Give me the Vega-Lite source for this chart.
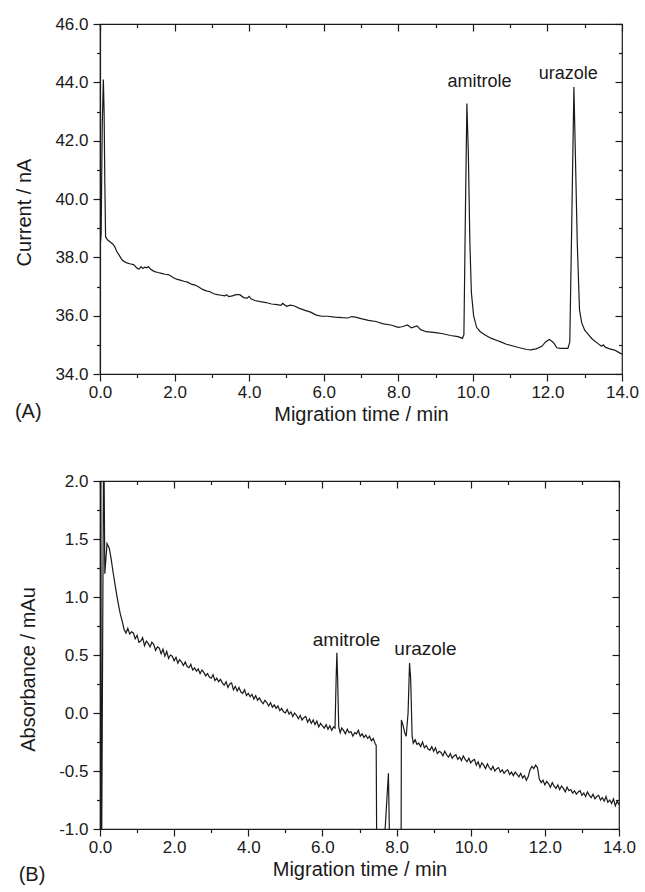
{
  "$schema": "https://vega.github.io/schema/vega-lite/v6.json",
  "padding": {"left": 14, "top": 14, "right": 5, "bottom": 5},
  "background": "white",
  "spacing": -3,
  "config": {
    "view": {"stroke": "#1a1a1a", "strokeWidth": 1.2},
    "axis": {
      "grid": false,
      "domainColor": "#1a1a1a",
      "domainWidth": 1.2,
      "tickColor": "#1a1a1a",
      "tickWidth": 1.2,
      "labelColor": "#1a1a1a",
      "titleColor": "#1a1a1a",
      "labelFont": "Liberation Sans",
      "titleFont": "Liberation Sans",
      "labelFontSize": 17,
      "titleFontSize": 20,
      "titleFontWeight": "normal",
      "labelFlush": false,
      "labelOverlap": false
    },
    "title": {"font": "Liberation Sans", "fontSize": 20, "fontWeight": "normal", "color": "#1a1a1a"}
  },
  "datasets": {
    "a": [
      {"t": 0.00, "v": 38.3}, {"t": 0.03, "v": 38.8}, {"t": 0.06, "v": 42.5}, {"t": 0.09, "v": 44.1},
      {"t": 0.11, "v": 43.0}, {"t": 0.13, "v": 40.5}, {"t": 0.15, "v": 38.7}, {"t": 0.20, "v": 38.6},
      {"t": 0.25, "v": 38.55}, {"t": 0.30, "v": 38.5}, {"t": 0.35, "v": 38.45}, {"t": 0.40, "v": 38.35},
      {"t": 0.45, "v": 38.2}, {"t": 0.50, "v": 38.1}, {"t": 0.55, "v": 38.0}, {"t": 0.60, "v": 37.9},
      {"t": 0.70, "v": 37.82}, {"t": 0.80, "v": 37.78}, {"t": 0.90, "v": 37.75}, {"t": 1.00, "v": 37.62},
      {"t": 1.05, "v": 37.6}, {"t": 1.10, "v": 37.68}, {"t": 1.15, "v": 37.62}, {"t": 1.20, "v": 37.66},
      {"t": 1.25, "v": 37.64}, {"t": 1.30, "v": 37.68}, {"t": 1.35, "v": 37.6}, {"t": 1.45, "v": 37.52},
      {"t": 1.55, "v": 37.48}, {"t": 1.65, "v": 37.45}, {"t": 1.75, "v": 37.42}, {"t": 1.85, "v": 37.4},
      {"t": 1.95, "v": 37.32}, {"t": 2.05, "v": 37.25}, {"t": 2.15, "v": 37.22}, {"t": 2.25, "v": 37.18},
      {"t": 2.35, "v": 37.15}, {"t": 2.45, "v": 37.08}, {"t": 2.55, "v": 37.05}, {"t": 2.65, "v": 36.98},
      {"t": 2.75, "v": 36.9}, {"t": 2.85, "v": 36.85}, {"t": 2.95, "v": 36.82}, {"t": 3.05, "v": 36.75},
      {"t": 3.15, "v": 36.72}, {"t": 3.25, "v": 36.7}, {"t": 3.35, "v": 36.68}, {"t": 3.40, "v": 36.72},
      {"t": 3.45, "v": 36.65}, {"t": 3.55, "v": 36.68}, {"t": 3.65, "v": 36.72}, {"t": 3.75, "v": 36.72},
      {"t": 3.85, "v": 36.62}, {"t": 3.95, "v": 36.6}, {"t": 4.00, "v": 36.66}, {"t": 4.05, "v": 36.58},
      {"t": 4.15, "v": 36.52}, {"t": 4.30, "v": 36.48}, {"t": 4.45, "v": 36.45}, {"t": 4.60, "v": 36.4},
      {"t": 4.75, "v": 36.38}, {"t": 4.85, "v": 36.35}, {"t": 4.90, "v": 36.42}, {"t": 5.00, "v": 36.32},
      {"t": 5.10, "v": 36.36}, {"t": 5.20, "v": 36.34}, {"t": 5.35, "v": 36.25}, {"t": 5.50, "v": 36.18},
      {"t": 5.65, "v": 36.12}, {"t": 5.80, "v": 36.02}, {"t": 5.95, "v": 35.98}, {"t": 6.10, "v": 35.98},
      {"t": 6.30, "v": 35.95}, {"t": 6.50, "v": 35.93}, {"t": 6.65, "v": 35.92}, {"t": 6.75, "v": 35.97},
      {"t": 6.85, "v": 35.95}, {"t": 7.00, "v": 35.9}, {"t": 7.20, "v": 35.84}, {"t": 7.40, "v": 35.8},
      {"t": 7.60, "v": 35.72}, {"t": 7.80, "v": 35.68}, {"t": 8.00, "v": 35.6}, {"t": 8.10, "v": 35.62},
      {"t": 8.25, "v": 35.68}, {"t": 8.35, "v": 35.58}, {"t": 8.50, "v": 35.65}, {"t": 8.60, "v": 35.52},
      {"t": 8.75, "v": 35.45}, {"t": 9.00, "v": 35.42}, {"t": 9.20, "v": 35.38}, {"t": 9.40, "v": 35.32},
      {"t": 9.60, "v": 35.28}, {"t": 9.72, "v": 35.22}, {"t": 9.76, "v": 35.35}, {"t": 9.80, "v": 39.5},
      {"t": 9.84, "v": 43.27}, {"t": 9.88, "v": 41.5}, {"t": 9.92, "v": 38.5}, {"t": 9.96, "v": 36.8},
      {"t": 10.02, "v": 36.0}, {"t": 10.10, "v": 35.6}, {"t": 10.20, "v": 35.45}, {"t": 10.35, "v": 35.32},
      {"t": 10.50, "v": 35.22}, {"t": 10.65, "v": 35.15}, {"t": 10.75, "v": 35.1}, {"t": 10.90, "v": 35.02},
      {"t": 11.05, "v": 34.97}, {"t": 11.25, "v": 34.9}, {"t": 11.45, "v": 34.84}, {"t": 11.55, "v": 34.83},
      {"t": 11.70, "v": 34.86}, {"t": 11.85, "v": 34.95}, {"t": 11.95, "v": 35.1}, {"t": 12.05, "v": 35.18},
      {"t": 12.12, "v": 35.12}, {"t": 12.18, "v": 35.05}, {"t": 12.25, "v": 34.9}, {"t": 12.35, "v": 34.88},
      {"t": 12.55, "v": 34.88}, {"t": 12.60, "v": 35.1}, {"t": 12.65, "v": 39.0}, {"t": 12.71, "v": 43.84},
      {"t": 12.75, "v": 41.5}, {"t": 12.80, "v": 38.5}, {"t": 12.86, "v": 36.2}, {"t": 12.92, "v": 35.75},
      {"t": 13.00, "v": 35.5}, {"t": 13.10, "v": 35.35}, {"t": 13.20, "v": 35.2}, {"t": 13.35, "v": 35.05},
      {"t": 13.45, "v": 34.95}, {"t": 13.50, "v": 35.0}, {"t": 13.55, "v": 34.92}, {"t": 13.65, "v": 34.87},
      {"t": 13.80, "v": 34.82}, {"t": 13.90, "v": 34.75}, {"t": 14.00, "v": 34.68}
    ],
    "b": [
      {"t": 0.00, "v": -1.5}, {"t": 0.02, "v": 2.5}, {"t": 0.04, "v": -1.5}, {"t": 0.10, "v": 2.5},
      {"t": 0.13, "v": 1.2}, {"t": 0.19, "v": 1.46}, {"t": 0.25, "v": 1.42}, {"t": 0.30, "v": 1.33},
      {"t": 0.35, "v": 1.22}, {"t": 0.40, "v": 1.12}, {"t": 0.45, "v": 1.02}, {"t": 0.50, "v": 0.93},
      {"t": 0.55, "v": 0.85}, {"t": 0.60, "v": 0.79}, {"t": 0.65, "v": 0.72}, {"t": 0.70, "v": 0.69},
      {"t": 0.75, "v": 0.73}, {"t": 0.80, "v": 0.68}, {"t": 0.85, "v": 0.70}, {"t": 0.90, "v": 0.69},
      {"t": 0.95, "v": 0.64}, {"t": 1.00, "v": 0.67}, {"t": 1.05, "v": 0.61}, {"t": 1.10, "v": 0.62},
      {"t": 1.15, "v": 0.65}, {"t": 1.20, "v": 0.58}, {"t": 1.25, "v": 0.62}, {"t": 1.30, "v": 0.60},
      {"t": 1.35, "v": 0.57}, {"t": 1.40, "v": 0.61}, {"t": 1.45, "v": 0.59}, {"t": 1.50, "v": 0.54},
      {"t": 1.55, "v": 0.57}, {"t": 1.60, "v": 0.56}, {"t": 1.65, "v": 0.51}, {"t": 1.70, "v": 0.55},
      {"t": 1.75, "v": 0.49}, {"t": 1.80, "v": 0.53}, {"t": 1.85, "v": 0.47}, {"t": 1.90, "v": 0.50},
      {"t": 1.95, "v": 0.49}, {"t": 2.00, "v": 0.45}, {"t": 2.05, "v": 0.48}, {"t": 2.10, "v": 0.43},
      {"t": 2.15, "v": 0.46}, {"t": 2.20, "v": 0.44}, {"t": 2.25, "v": 0.41}, {"t": 2.30, "v": 0.44},
      {"t": 2.35, "v": 0.40}, {"t": 2.40, "v": 0.39}, {"t": 2.45, "v": 0.42}, {"t": 2.50, "v": 0.37},
      {"t": 2.55, "v": 0.39}, {"t": 2.60, "v": 0.36}, {"t": 2.65, "v": 0.38}, {"t": 2.70, "v": 0.34},
      {"t": 2.75, "v": 0.37}, {"t": 2.80, "v": 0.35}, {"t": 2.85, "v": 0.32}, {"t": 2.90, "v": 0.34},
      {"t": 2.95, "v": 0.31}, {"t": 3.00, "v": 0.30}, {"t": 3.05, "v": 0.33}, {"t": 3.10, "v": 0.28},
      {"t": 3.15, "v": 0.30}, {"t": 3.20, "v": 0.27}, {"t": 3.25, "v": 0.29}, {"t": 3.30, "v": 0.26},
      {"t": 3.35, "v": 0.24}, {"t": 3.40, "v": 0.27}, {"t": 3.45, "v": 0.22}, {"t": 3.50, "v": 0.25},
      {"t": 3.55, "v": 0.26}, {"t": 3.60, "v": 0.20}, {"t": 3.65, "v": 0.23}, {"t": 3.70, "v": 0.19},
      {"t": 3.75, "v": 0.22}, {"t": 3.80, "v": 0.18}, {"t": 3.85, "v": 0.17}, {"t": 3.90, "v": 0.20},
      {"t": 3.95, "v": 0.15}, {"t": 4.00, "v": 0.17}, {"t": 4.05, "v": 0.14}, {"t": 4.10, "v": 0.16},
      {"t": 4.15, "v": 0.12}, {"t": 4.20, "v": 0.15}, {"t": 4.25, "v": 0.11}, {"t": 4.30, "v": 0.13},
      {"t": 4.35, "v": 0.10}, {"t": 4.40, "v": 0.08}, {"t": 4.45, "v": 0.11}, {"t": 4.50, "v": 0.09},
      {"t": 4.55, "v": 0.06}, {"t": 4.60, "v": 0.09}, {"t": 4.65, "v": 0.05}, {"t": 4.70, "v": 0.07},
      {"t": 4.75, "v": 0.04}, {"t": 4.80, "v": 0.06}, {"t": 4.85, "v": 0.02}, {"t": 4.90, "v": 0.04},
      {"t": 4.95, "v": 0.01}, {"t": 5.00, "v": 0.00}, {"t": 5.05, "v": 0.03}, {"t": 5.10, "v": -0.01},
      {"t": 5.15, "v": 0.01}, {"t": 5.20, "v": -0.03}, {"t": 5.25, "v": 0.00}, {"t": 5.30, "v": -0.02},
      {"t": 5.35, "v": -0.05}, {"t": 5.40, "v": -0.02}, {"t": 5.45, "v": -0.06}, {"t": 5.50, "v": -0.04},
      {"t": 5.55, "v": -0.03}, {"t": 5.60, "v": -0.08}, {"t": 5.65, "v": -0.05}, {"t": 5.70, "v": -0.09},
      {"t": 5.75, "v": -0.06}, {"t": 5.80, "v": -0.10}, {"t": 5.85, "v": -0.07}, {"t": 5.90, "v": -0.12},
      {"t": 5.95, "v": -0.09}, {"t": 6.00, "v": -0.11}, {"t": 6.05, "v": -0.13}, {"t": 6.10, "v": -0.10},
      {"t": 6.15, "v": -0.14}, {"t": 6.20, "v": -0.11}, {"t": 6.25, "v": -0.15}, {"t": 6.30, "v": -0.12},
      {"t": 6.34, "v": -0.13}, {"t": 6.37, "v": 0.30}, {"t": 6.39, "v": 0.52}, {"t": 6.41, "v": 0.30},
      {"t": 6.44, "v": -0.12}, {"t": 6.48, "v": -0.17}, {"t": 6.52, "v": -0.13}, {"t": 6.57, "v": -0.15},
      {"t": 6.62, "v": -0.18}, {"t": 6.67, "v": -0.14}, {"t": 6.72, "v": -0.17}, {"t": 6.77, "v": -0.16},
      {"t": 6.82, "v": -0.20}, {"t": 6.87, "v": -0.17}, {"t": 6.92, "v": -0.18}, {"t": 6.97, "v": -0.15},
      {"t": 7.02, "v": -0.20}, {"t": 7.07, "v": -0.18}, {"t": 7.12, "v": -0.21}, {"t": 7.17, "v": -0.19},
      {"t": 7.22, "v": -0.22}, {"t": 7.27, "v": -0.20}, {"t": 7.32, "v": -0.24}, {"t": 7.37, "v": -0.22},
      {"t": 7.42, "v": -0.26}, {"t": 7.45, "v": -0.28}, {"t": 7.47, "v": -1.5}, {"t": 7.60, "v": -1.5},
      {"t": 7.78, "v": -0.52}, {"t": 7.83, "v": -1.5}, {"t": 8.12, "v": -1.5}, {"t": 8.13, "v": -0.06},
      {"t": 8.17, "v": -0.10}, {"t": 8.22, "v": -0.17}, {"t": 8.26, "v": -0.20}, {"t": 8.31, "v": 0.00},
      {"t": 8.35, "v": 0.43}, {"t": 8.38, "v": 0.30}, {"t": 8.42, "v": -0.20}, {"t": 8.45, "v": -0.26},
      {"t": 8.50, "v": -0.23}, {"t": 8.55, "v": -0.27}, {"t": 8.60, "v": -0.26}, {"t": 8.65, "v": -0.29},
      {"t": 8.70, "v": -0.25}, {"t": 8.75, "v": -0.30}, {"t": 8.80, "v": -0.28}, {"t": 8.85, "v": -0.31},
      {"t": 8.90, "v": -0.32}, {"t": 8.95, "v": -0.29}, {"t": 9.00, "v": -0.33}, {"t": 9.05, "v": -0.30},
      {"t": 9.10, "v": -0.35}, {"t": 9.15, "v": -0.33}, {"t": 9.20, "v": -0.34}, {"t": 9.25, "v": -0.37},
      {"t": 9.30, "v": -0.33}, {"t": 9.35, "v": -0.36}, {"t": 9.40, "v": -0.38}, {"t": 9.45, "v": -0.35},
      {"t": 9.50, "v": -0.39}, {"t": 9.55, "v": -0.37}, {"t": 9.60, "v": -0.36}, {"t": 9.65, "v": -0.40},
      {"t": 9.70, "v": -0.38}, {"t": 9.75, "v": -0.41}, {"t": 9.80, "v": -0.37}, {"t": 9.85, "v": -0.40},
      {"t": 9.90, "v": -0.42}, {"t": 9.95, "v": -0.39}, {"t": 10.00, "v": -0.43}, {"t": 10.05, "v": -0.41},
      {"t": 10.10, "v": -0.40}, {"t": 10.15, "v": -0.45}, {"t": 10.20, "v": -0.42}, {"t": 10.25, "v": -0.47},
      {"t": 10.30, "v": -0.43}, {"t": 10.35, "v": -0.45}, {"t": 10.40, "v": -0.48}, {"t": 10.45, "v": -0.44},
      {"t": 10.50, "v": -0.47}, {"t": 10.55, "v": -0.49}, {"t": 10.60, "v": -0.46}, {"t": 10.65, "v": -0.50},
      {"t": 10.70, "v": -0.48}, {"t": 10.75, "v": -0.47}, {"t": 10.80, "v": -0.51}, {"t": 10.85, "v": -0.49},
      {"t": 10.90, "v": -0.52}, {"t": 10.95, "v": -0.50}, {"t": 11.00, "v": -0.49}, {"t": 11.05, "v": -0.53},
      {"t": 11.10, "v": -0.51}, {"t": 11.15, "v": -0.54}, {"t": 11.20, "v": -0.51}, {"t": 11.25, "v": -0.53},
      {"t": 11.30, "v": -0.55}, {"t": 11.35, "v": -0.52}, {"t": 11.40, "v": -0.56}, {"t": 11.45, "v": -0.54},
      {"t": 11.50, "v": -0.58}, {"t": 11.55, "v": -0.55}, {"t": 11.60, "v": -0.49}, {"t": 11.65, "v": -0.46},
      {"t": 11.70, "v": -0.48}, {"t": 11.75, "v": -0.45}, {"t": 11.80, "v": -0.47}, {"t": 11.85, "v": -0.57},
      {"t": 11.90, "v": -0.60}, {"t": 11.95, "v": -0.58}, {"t": 12.00, "v": -0.62}, {"t": 12.05, "v": -0.59},
      {"t": 12.10, "v": -0.61}, {"t": 12.15, "v": -0.64}, {"t": 12.20, "v": -0.60}, {"t": 12.25, "v": -0.63},
      {"t": 12.30, "v": -0.65}, {"t": 12.35, "v": -0.62}, {"t": 12.40, "v": -0.66}, {"t": 12.45, "v": -0.63},
      {"t": 12.50, "v": -0.65}, {"t": 12.55, "v": -0.68}, {"t": 12.60, "v": -0.64}, {"t": 12.65, "v": -0.67},
      {"t": 12.70, "v": -0.66}, {"t": 12.75, "v": -0.69}, {"t": 12.80, "v": -0.67}, {"t": 12.85, "v": -0.70},
      {"t": 12.90, "v": -0.68}, {"t": 12.95, "v": -0.67}, {"t": 13.00, "v": -0.71}, {"t": 13.05, "v": -0.69},
      {"t": 13.10, "v": -0.72}, {"t": 13.15, "v": -0.68}, {"t": 13.20, "v": -0.71}, {"t": 13.25, "v": -0.73},
      {"t": 13.30, "v": -0.70}, {"t": 13.35, "v": -0.74}, {"t": 13.40, "v": -0.72}, {"t": 13.45, "v": -0.71},
      {"t": 13.50, "v": -0.75}, {"t": 13.55, "v": -0.73}, {"t": 13.60, "v": -0.76}, {"t": 13.65, "v": -0.72},
      {"t": 13.70, "v": -0.77}, {"t": 13.75, "v": -0.75}, {"t": 13.80, "v": -0.78}, {"t": 13.85, "v": -0.74},
      {"t": 13.90, "v": -0.80}, {"t": 13.95, "v": -0.76}, {"t": 14.00, "v": -0.79}
    ]
  },
  "vconcat": [
    {
      "width": 522,
      "height": 350,
      "title": {"text": "(A)", "orient": "bottom", "anchor": "start", "frame": "bounds", "offset": -22},
      "layer": [
        {
          "data": {"name": "a"},
          "mark": {"type": "line", "color": "#1a1a1a", "strokeWidth": 1.2, "clip": true},
          "encoding": {
            "x": {"field": "t", "type": "quantitative", "scale": {"domain": [0, 14], "nice": false, "zero": false},
              "axis": {"orient": "bottom", "title": "Migration time / min", "values": [0,1,2,3,4,5,6,7,8,9,10,11,12,13,14],
                "labelExpr": "datum.value % 2 === 0 ? format(datum.value, '.1f') : ''",
                "tickSize": {"condition": {"test": "datum.value % 2 === 0", "value": 7}, "value": 3.5},
                "labelPadding": 3, "titlePadding": 4}},
            "y": {"field": "v", "type": "quantitative", "scale": {"domain": [34, 46], "nice": false, "zero": false},
              "axis": {"orient": "left", "title": "Current / nA", "values": [34,35,36,37,38,39,40,41,42,43,44,45,46],
                "labelExpr": "datum.value % 2 === 0 ? format(datum.value, '.1f') : ''",
                "tickSize": {"condition": {"test": "datum.value % 2 === 0", "value": 7}, "value": 3.5},
                "labelPadding": 5, "titlePadding": 20, "titleY": 188}}
          }
        },
        {
          "data": {"name": "a"},
          "mark": {"type": "line", "opacity": 0},
          "encoding": {
            "x": {"field": "t", "type": "quantitative", "scale": {"domain": [0, 14], "nice": false, "zero": false},
              "axis": {"orient": "top", "title": null, "labels": false, "domain": false, "values": [0,2,4,6,8,10,12,14],
                "tickSize": 7, "offset": -7}},
            "y": {"field": "v", "type": "quantitative", "scale": {"domain": [34, 46], "nice": false, "zero": false},
              "axis": {"orient": "right", "title": null, "labels": false, "domain": false, "values": [34,36,38,40,42,44,46],
                "tickSize": 7, "offset": -7}}
          }
        },
        {
          "data": {"name": "a"},
          "mark": {"type": "line", "opacity": 0},
          "encoding": {
            "x": {"field": "t", "type": "quantitative", "scale": {"domain": [0, 14], "nice": false, "zero": false},
              "axis": {"orient": "top", "title": null, "labels": false, "domain": false, "values": [1,3,5,7,9,11,13],
                "tickSize": 3.5, "offset": -3.5}},
            "y": {"field": "v", "type": "quantitative", "scale": {"domain": [34, 46], "nice": false, "zero": false},
              "axis": {"orient": "right", "title": null, "labels": false, "domain": false, "values": [35,37,39,41,43,45],
                "tickSize": 3.5, "offset": -3.5}}
          }
        },
        {
          "data": {"values": [
            {"t": 10.18, "v": 43.84, "label": "amitrole"},
            {"t": 12.56, "v": 44.1, "label": "urazole"}
          ]},
          "mark": {"type": "text", "font": "Liberation Sans", "fontSize": 18, "color": "#1a1a1a", "align": "center", "baseline": "alphabetic"},
          "encoding": {
            "x": {"field": "t", "type": "quantitative", "axis": null},
            "y": {"field": "v", "type": "quantitative", "axis": null},
            "text": {"field": "label"}
          }
        }
      ],
      "resolve": {"axis": {"x": "independent", "y": "independent"}}
    },
    {
      "width": 519,
      "height": 348,
      "title": {"text": "(B)", "orient": "bottom", "anchor": "start", "frame": "bounds", "offset": -22},
      "layer": [
        {
          "data": {"name": "b"},
          "mark": {"type": "line", "color": "#1a1a1a", "strokeWidth": 1.2, "clip": true},
          "encoding": {
            "x": {"field": "t", "type": "quantitative", "scale": {"domain": [0, 14], "nice": false, "zero": false},
              "axis": {"orient": "bottom", "title": "Migration time / min", "values": [0,1,2,3,4,5,6,7,8,9,10,11,12,13,14],
                "labelExpr": "datum.value % 2 === 0 ? format(datum.value, '.1f') : ''",
                "tickSize": {"condition": {"test": "datum.value % 2 === 0", "value": 7}, "value": 3.5},
                "labelPadding": 3, "titlePadding": 4}},
            "y": {"field": "v", "type": "quantitative", "scale": {"domain": [-1, 2], "nice": false, "zero": false},
              "axis": {"orient": "left", "title": "Absorbance / mAu", "values": [-1,-0.75,-0.5,-0.25,0,0.25,0.5,0.75,1,1.25,1.5,1.75,2],
                "labelExpr": "abs(datum.value * 2 - round(datum.value * 2)) < 0.001 ? replace(format(datum.value, '.1f'), '−', '-') : ''",
                "tickSize": {"condition": {"test": "abs(datum.value * 2 - round(datum.value * 2)) < 0.001", "value": 7}, "value": 3.5},
                "labelPadding": 5, "titlePadding": 20, "titleY": 188}}
          }
        },
        {
          "data": {"name": "b"},
          "mark": {"type": "line", "opacity": 0},
          "encoding": {
            "x": {"field": "t", "type": "quantitative", "scale": {"domain": [0, 14], "nice": false, "zero": false},
              "axis": {"orient": "top", "title": null, "labels": false, "domain": false, "values": [0,2,4,6,8,10,12,14],
                "tickSize": 7, "offset": -7}},
            "y": {"field": "v", "type": "quantitative", "scale": {"domain": [-1, 2], "nice": false, "zero": false},
              "axis": {"orient": "right", "title": null, "labels": false, "domain": false, "values": [-1,-0.5,0,0.5,1,1.5,2],
                "tickSize": 7, "offset": -7}}
          }
        },
        {
          "data": {"name": "b"},
          "mark": {"type": "line", "opacity": 0},
          "encoding": {
            "x": {"field": "t", "type": "quantitative", "scale": {"domain": [0, 14], "nice": false, "zero": false},
              "axis": {"orient": "top", "title": null, "labels": false, "domain": false, "values": [1,3,5,7,9,11,13],
                "tickSize": 3.5, "offset": -3.5}},
            "y": {"field": "v", "type": "quantitative", "scale": {"domain": [-1, 2], "nice": false, "zero": false},
              "axis": {"orient": "right", "title": null, "labels": false, "domain": false, "values": [-0.75,-0.25,0.25,0.75,1.25,1.75],
                "tickSize": 3.5, "offset": -3.5}}
          }
        },
        {
          "data": {"values": [
            {"t": 6.65, "v": 0.58, "label": "amitrole"},
            {"t": 8.78, "v": 0.50, "label": "urazole"}
          ]},
          "mark": {"type": "text", "font": "Liberation Sans", "fontSize": 19, "color": "#1a1a1a", "align": "center", "baseline": "alphabetic"},
          "encoding": {
            "x": {"field": "t", "type": "quantitative", "axis": null},
            "y": {"field": "v", "type": "quantitative", "axis": null},
            "text": {"field": "label"}
          }
        }
      ],
      "resolve": {"axis": {"x": "independent", "y": "independent"}}
    }
  ]
}
